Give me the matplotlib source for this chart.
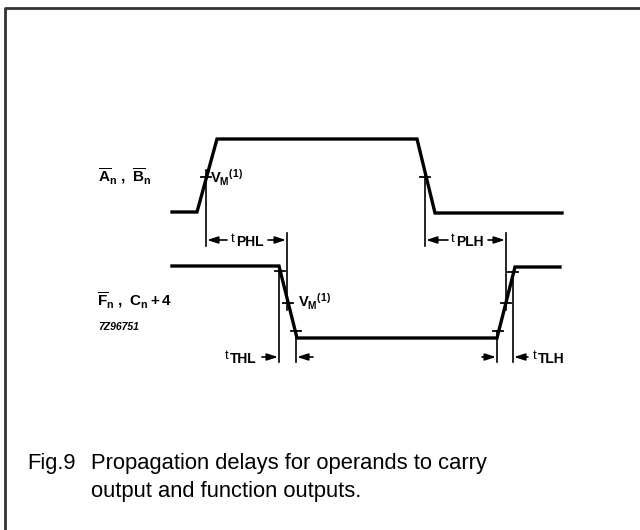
import matplotlib.pyplot as plt

plt.rcParams['font.family'] = ['Liberation Sans', 'DejaVu Sans']
plt.rcParams['mathtext.fontset'] = 'custom'
plt.rcParams['mathtext.rm'] = 'Liberation Sans:bold'
plt.rcParams['mathtext.it'] = 'Liberation Sans:bold'
plt.rcParams['mathtext.bf'] = 'Liberation Sans:bold'

# 波形数据 (像素坐标)
a_x = [172, 197, 217, 417, 435, 562]
a_y = [212, 212, 139, 139, 213, 213]
f_x = [172, 279, 297, 497, 515, 560]
f_y = [266, 266, 338, 338, 267, 267]

# 参考点
vm_a_rise = (206, 177)
vm_a_fall = (425, 177)
f_fall_ticks = [(280, 271), (288, 303), (296, 331)]
f_rise_ticks = [(498, 331), (506, 303), (513, 272)]

fig = plt.figure(figsize=(6.4, 5.3), dpi=100)
ax = fig.add_axes([0, 0, 1, 1])
ax.set_xlim(0, 640)
ax.set_ylim(530, 0)
ax.axis('off')

# 边框 (只有左和上)
ax.plot([4.5, 4.5, 640], [530, 7.5, 7.5], color='#333333', lw=2)

# 波形
ax.plot(a_x, a_y, color='black', lw=2.4, solid_joinstyle='miter')
ax.plot(f_x, f_y, color='black', lw=2.4, solid_joinstyle='miter')

# VM 标记
for (x, y) in [vm_a_rise, vm_a_fall] + f_fall_ticks + f_rise_ticks:
    ax.plot([x - 5, x + 5], [y, y], color='black', lw=1.3)

# 竖线
lw_ref = 1.2
ax.plot([206, 206], [170, 246], color='black', lw=lw_ref)
ax.plot([287, 287], [233, 310], color='black', lw=lw_ref)
ax.plot([425, 425], [170, 246], color='black', lw=lw_ref)
ax.plot([506, 506], [233, 310], color='black', lw=lw_ref)
ax.plot([279, 279], [266, 362], color='black', lw=lw_ref)
ax.plot([296, 296], [331, 362], color='black', lw=lw_ref)
ax.plot([497, 497], [331, 362], color='black', lw=lw_ref)
ax.plot([513, 513], [272, 362], color='black', lw=lw_ref)


def arrow(x0, x1, y):
    ax.annotate('', xy=(x1, y), xytext=(x0, y),
                arrowprops=dict(arrowstyle='-|>,head_length=0.5,head_width=0.16',
                                color='black', lw=1.2,
                                mutation_scale=13, shrinkA=0, shrinkB=0))


def tlabel(x, y, sub):
    ax.text(x, y - 1, 't', fontsize=9.5, va='center', ha='left')
    ax.text(x + 5, y + 2, sub, fontsize=10, fontweight='bold', va='center', ha='left')


# tPHL
arrow(227, 207, 240)
arrow(268, 286, 240)
tlabel(231, 240, 'PHL')
# tPLH
arrow(448, 426, 240)
arrow(488, 505, 240)
tlabel(451, 240, 'PLH')
# tTHL
arrow(262, 278, 357)
arrow(313, 297, 357)
tlabel(225, 357, 'THL')
# tTLH
arrow(482, 496, 357)
arrow(528, 514, 357)
tlabel(533, 357, 'TLH')

# VM 文字
ax.text(210, 178, r'$\mathregular{V_M{}^{(1)}}$', fontsize=10.5, fontweight='bold', va='center', ha='left')
ax.text(298, 302, r'$\mathregular{V_M{}^{(1)}}$', fontsize=10.5, fontweight='bold', va='center', ha='left')

# 信号名
ax.text(98, 176, r'$\mathregular{\overline{A}_n\ ,\ \overline{B}_n}$', fontsize=11, fontweight='bold',
        va='center', ha='left')
ax.text(97, 300, r'$\mathregular{\overline{F}_n\ ,\ C_n+4}$', fontsize=11, fontweight='bold',
        va='center', ha='left')
ax.text(98, 327, '7Z96751', fontsize=7.5, fontweight='bold', fontstyle='italic', va='center', ha='left')

# 图题
ax.text(27, 463, 'Fig.9', fontsize=15.8, va='center', ha='left')
ax.text(91, 463, 'Propagation delays for operands to carry', fontsize=15.8, va='center', ha='left')
ax.text(91, 491, 'output and function outputs.', fontsize=15.8, va='center', ha='left')

fig.savefig('out.png', dpi=100)
